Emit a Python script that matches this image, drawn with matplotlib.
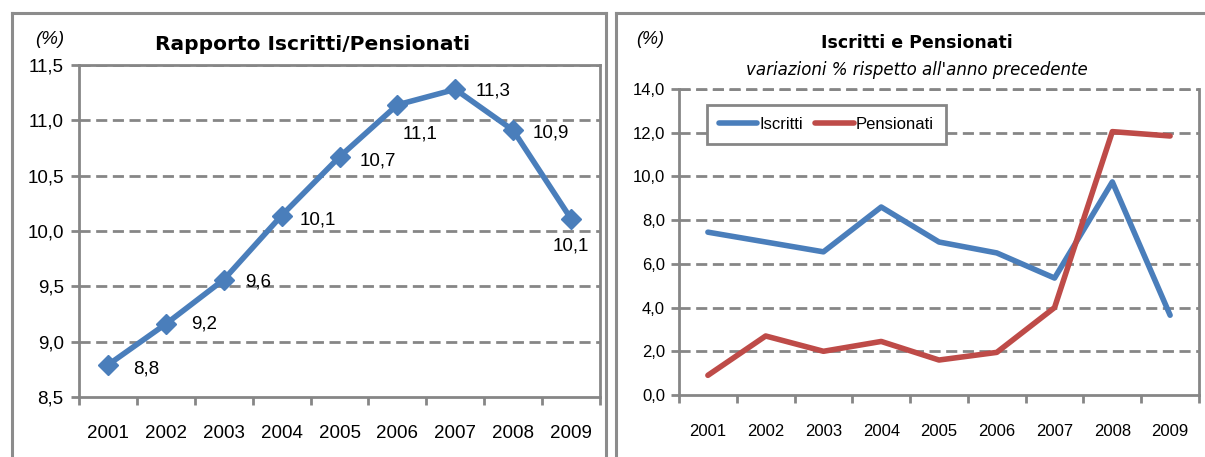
import matplotlib
matplotlib.use("Agg")
import matplotlib.pyplot as plt
from matplotlib.lines import Line2D
from matplotlib import font_manager

years = ["2001", "2002", "2003", "2004", "2005", "2006", "2007", "2008", "2009"]
rapporto = [8.79, 9.16, 9.56, 10.14, 10.67, 11.14, 11.28, 10.91, 10.11]
rapporto_labels = ["8,8", "9,2", "9,6", "10,1", "10,7", "11,1", "11,3", "10,9", "10,1"]
iscritti = [7.45, 7.0, 6.55, 8.6, 7.0, 6.5, 5.35, 9.75, 3.65]
pensionati = [0.9, 2.7, 2.0, 2.45, 1.6, 1.95, 4.0, 12.05, 11.85]
left_yticks = [8.5, 9.0, 9.5, 10.0, 10.5, 11.0, 11.5]
right_yticks = [0, 2, 4, 6, 8, 10, 12, 14]

names = {f.name for f in font_manager.fontManager.ttflist}
NARROW = "Liberation Sans Narrow" if "Liberation Sans Narrow" in names else "Liberation Sans"
SANS = "Liberation Sans"

BLUE = "#4A7EBB"
RED = "#BE4B48"
GRID = "#868686"

fig = plt.figure(figsize=(12.05, 4.57), dpi=100)
W, H = 1205, 457

def fx(px):
    return px / W

def fy(py):
    return 1 - py / H

# panel borders
for xs, ys in [((12, 12), (13, 470)), ((12, 606), (13, 13)), ((606, 606), (13, 470)),
               ((616, 616), (13, 470)), ((616, 1210), (13, 13))]:
    fig.add_artist(Line2D([fx(x) for x in xs], [fy(y) for y in ys], color="#8C8C8C", lw=2.2))

x = list(range(1, len(years) + 1))

def style_axes(ax, yticks, fmt, tickfont, ticksize, xfont, xsize, xpad, ypad):
    ax.set_xlim(0.5, len(years) + 0.5)
    ax.set_xticks([i + 0.5 for i in range(0, len(years) + 1)])
    ax.set_xticklabels([])
    ax.set_xticks(x, minor=True)
    ax.set_xticklabels(years, minor=True, fontfamily=xfont, fontsize=xsize)
    ax.tick_params(axis="x", which="minor", length=0, pad=xpad)
    ax.tick_params(axis="x", which="major", length=6, width=2, color=GRID, direction="out")
    ax.set_yticks(yticks)
    ax.set_yticklabels([fmt(v) for v in yticks], fontfamily=tickfont, fontsize=ticksize)
    ax.tick_params(axis="y", length=6, width=2, color=GRID, direction="out", pad=ypad)
    for s in ax.spines.values():
        s.set_color(GRID)
        s.set_linewidth(2)
    for v in yticks[1:]:
        ax.axhline(v, color=GRID, lw=2, ls=(0, (4, 2)), zorder=1)

# Left chart
ax1 = fig.add_axes([fx(79), fy(397), fx(600) - fx(79), fy(65) - fy(397)])
ax1.set_ylim(8.5, 11.5)
style_axes(ax1, left_yticks, lambda v: f"{v:.1f}".replace(".", ","), SANS, 13.5, SANS, 13.5, 20, 5)
ax1.plot(x, rapporto, color=BLUE, lw=4, marker="D", markersize=10, zorder=3, clip_on=False)
offsets = [(38, -4), (38, 0), (34, -2), (36, -4), (38, -4), (23, -29), (38, -2), (38, -3), (0, -27)]
for xi, yi, lab, off in zip(x, rapporto, rapporto_labels, offsets):
    ax1.annotate(lab, (xi, yi), xytext=off, textcoords="offset pixels", ha="center", va="center",
                 fontfamily=SANS, fontsize=13.5, color="black")
fig.text(fx(50), fy(40), "(%)", fontfamily=SANS, fontsize=13.5, style="italic", ha="center", va="center")
fig.text(fx(313), fy(44), "Rapporto Iscritti/Pensionati", fontfamily="DejaVu Sans", fontsize=14.5,
         fontweight="bold", ha="center", va="center")

# Right chart
ax2 = fig.add_axes([fx(679), fy(395), fx(1199) - fx(679), fy(89) - fy(395)])
ax2.set_ylim(0, 14)
style_axes(ax2, right_yticks, lambda v: f"{v:.1f}".replace(".", ","), NARROW, 12, NARROW, 12, 21, 4)
ax2.spines["top"].set_visible(False)
ax2.axhline(14, color=GRID, lw=2, ls=(0, (4, 2)), zorder=1, clip_on=False)
ax2.plot(x, iscritti, color=BLUE, lw=4, label="Iscritti", zorder=3, solid_capstyle="round")
ax2.plot(x, pensionati, color=RED, lw=4, label="Pensionati", zorder=3, solid_capstyle="round")
leg = ax2.legend(loc="upper left", bbox_to_anchor=(0.054, 0.948), borderaxespad=0, ncol=2, frameon=True,
                 fancybox=False, edgecolor=GRID, handlelength=2.3, handletextpad=0.15, columnspacing=0.7,
                 borderpad=0.72, prop={"family": NARROW, "size": 12})
leg.get_frame().set_linewidth(2)
leg.get_frame().set_alpha(1)
fig.text(fx(650), fy(40), "(%)", fontfamily=NARROW, fontsize=13, style="italic", ha="center", va="center")
fig.text(fx(917), fy(43), "Iscritti e Pensionati", fontfamily="DejaVu Sans", fontsize=12.5,
         fontweight="bold", ha="center", va="center")
fig.text(fx(917), fy(70), "variazioni % rispetto all'anno precedente", fontfamily="DejaVu Sans",
         fontsize=12, style="italic", ha="center", va="center")

fig.savefig("out.png", dpi=100)
